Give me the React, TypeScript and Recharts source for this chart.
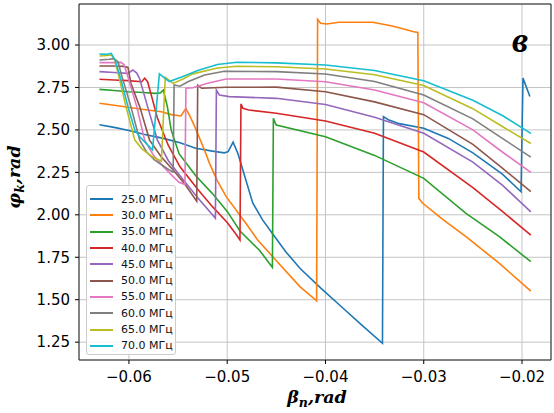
import { LineChart, Line, XAxis, YAxis, CartesianGrid, ReferenceArea, Legend } from 'recharts'

type Pt = [number, number]

// phase curves, [beta_n, phi_k]
const f25: Pt[] = [
  [-0.063, 2.53], [-0.0615, 2.515], [-0.06, 2.497], [-0.0585, 2.475], [-0.0565, 2.45], [-0.0548, 2.425],
  [-0.0532, 2.392], [-0.0515, 2.375], [-0.0503, 2.365], [-0.0499, 2.372], [-0.0494, 2.428], [-0.0489, 2.36],
  [-0.0484, 2.262], [-0.0474, 2.07], [-0.0464, 1.97], [-0.0454, 1.89], [-0.044, 1.78], [-0.0426, 1.685],
  [-0.0405, 1.57], [-0.0384, 1.46], [-0.0363, 1.35], [-0.0342, 1.243], [-0.0341, 2.578], [-0.0336, 2.56],
  [-0.0325, 2.537], [-0.03, 2.51], [-0.0275, 2.45], [-0.025, 2.365], [-0.022, 2.24], [-0.0201, 2.136],
  [-0.0199, 2.805], [-0.0192, 2.697],
]
const f30: Pt[] = [
  [-0.063, 2.657], [-0.0615, 2.645], [-0.0601, 2.633], [-0.0585, 2.62], [-0.0567, 2.607], [-0.0557, 2.59],
  [-0.0547, 2.582], [-0.0542, 2.627], [-0.0537, 2.57], [-0.0533, 2.519], [-0.0523, 2.38], [-0.0518, 2.303],
  [-0.051, 2.2], [-0.0501, 2.107], [-0.0481, 1.95], [-0.0469, 1.852], [-0.045, 1.73], [-0.0426, 1.577],
  [-0.0409, 1.494], [-0.0408, 3.151], [-0.0405, 3.128], [-0.0399, 3.124], [-0.0386, 3.134], [-0.0352, 3.134],
  [-0.0332, 3.112], [-0.031, 3.078], [-0.0306, 3.074], [-0.0305, 2.097], [-0.0301, 2.068], [-0.028, 1.97],
  [-0.0257, 1.871], [-0.0223, 1.714], [-0.0191, 1.551],
]
const f35: Pt[] = [
  [-0.063, 2.739], [-0.0615, 2.732], [-0.0601, 2.725], [-0.0585, 2.72], [-0.0574, 2.715], [-0.0568, 2.718],
  [-0.0565, 2.735], [-0.0561, 2.64], [-0.0557, 2.5], [-0.0549, 2.36], [-0.0532, 2.23], [-0.0515, 2.125],
  [-0.05, 2.02], [-0.0487, 1.905], [-0.0467, 1.79], [-0.0454, 1.691], [-0.0453, 2.568], [-0.0451, 2.54],
  [-0.045, 2.529], [-0.04, 2.46], [-0.035, 2.35], [-0.03, 2.215], [-0.0257, 2.009], [-0.0223, 1.871],
  [-0.0191, 1.724],
]
const f40: Pt[] = [
  [-0.063, 2.798], [-0.0615, 2.794], [-0.0601, 2.79], [-0.0587, 2.784], [-0.0584, 2.804], [-0.0581, 2.784],
  [-0.0577, 2.7], [-0.0571, 2.57], [-0.056, 2.41], [-0.0548, 2.283], [-0.053, 2.15], [-0.0515, 2.048],
  [-0.05, 1.955], [-0.0491, 1.885], [-0.0487, 1.852], [-0.0486, 2.653], [-0.0484, 2.627], [-0.0478, 2.617],
  [-0.045, 2.598], [-0.04, 2.552], [-0.035, 2.48], [-0.03, 2.37], [-0.025, 2.16], [-0.022, 2.02],
  [-0.0191, 1.881],
]
const f45: Pt[] = [
  [-0.063, 2.843], [-0.0615, 2.838], [-0.0601, 2.833], [-0.0596, 2.853], [-0.0592, 2.835], [-0.0589, 2.8],
  [-0.0581, 2.637], [-0.0571, 2.44], [-0.056, 2.32], [-0.0548, 2.23], [-0.053, 2.1], [-0.0515, 2.0],
  [-0.0512, 1.979], [-0.0511, 2.735], [-0.0508, 2.706], [-0.0498, 2.696], [-0.045, 2.686], [-0.04, 2.65],
  [-0.035, 2.575], [-0.03, 2.48], [-0.025, 2.31], [-0.022, 2.175], [-0.0191, 2.017],
]
const f50: Pt[] = [
  [-0.063, 2.876], [-0.0615, 2.876], [-0.0605, 2.874], [-0.0601, 2.868], [-0.0598, 2.775], [-0.0589, 2.637],
  [-0.0579, 2.44], [-0.0567, 2.34], [-0.0555, 2.264], [-0.0543, 2.18], [-0.0531, 2.08], [-0.053, 2.764],
  [-0.0526, 2.745], [-0.0501, 2.751], [-0.045, 2.752], [-0.04, 2.725], [-0.035, 2.665], [-0.03, 2.59],
  [-0.025, 2.415], [-0.022, 2.275], [-0.0191, 2.136],
]
const f55: Pt[] = [
  [-0.063, 2.896], [-0.0615, 2.896], [-0.0608, 2.898], [-0.0605, 2.885], [-0.0601, 2.813], [-0.0592, 2.637],
  [-0.0584, 2.44], [-0.0575, 2.35], [-0.0565, 2.283], [-0.0555, 2.225], [-0.0549, 2.192], [-0.0543, 2.178],
  [-0.0542, 2.745], [-0.0535, 2.748], [-0.052, 2.775], [-0.0501, 2.8], [-0.045, 2.8], [-0.04, 2.784],
  [-0.035, 2.735], [-0.03, 2.66], [-0.025, 2.5], [-0.022, 2.37], [-0.0191, 2.25],
]
const f60: Pt[] = [
  [-0.063, 2.912], [-0.062, 2.916], [-0.0615, 2.92], [-0.0611, 2.9], [-0.0608, 2.833], [-0.0598, 2.637],
  [-0.0589, 2.44], [-0.0582, 2.37], [-0.0574, 2.323], [-0.0559, 2.264], [-0.0555, 2.252], [-0.0554, 2.764],
  [-0.0548, 2.757], [-0.054, 2.784], [-0.0523, 2.823], [-0.0503, 2.845], [-0.045, 2.843], [-0.04, 2.829],
  [-0.035, 2.785], [-0.03, 2.705], [-0.025, 2.565], [-0.022, 2.45], [-0.0191, 2.34],
]
const f65: Pt[] = [
  [-0.063, 2.935], [-0.0622, 2.938], [-0.0618, 2.941], [-0.0615, 2.92], [-0.0611, 2.833], [-0.0603, 2.637],
  [-0.0594, 2.44], [-0.0587, 2.39], [-0.0577, 2.345], [-0.0567, 2.315], [-0.0563, 2.81], [-0.0555, 2.774],
  [-0.0545, 2.8], [-0.0535, 2.83], [-0.051, 2.865], [-0.049, 2.875], [-0.045, 2.872], [-0.04, 2.859],
  [-0.035, 2.825], [-0.03, 2.762], [-0.025, 2.625], [-0.022, 2.52], [-0.0191, 2.42],
]
const f70: Pt[] = [
  [-0.063, 2.947], [-0.0622, 2.945], [-0.0618, 2.951], [-0.0614, 2.91], [-0.0608, 2.794], [-0.0601, 2.637],
  [-0.0594, 2.5], [-0.0589, 2.46], [-0.0579, 2.4], [-0.0576, 2.382], [-0.0569, 2.83], [-0.0559, 2.785],
  [-0.0545, 2.815], [-0.053, 2.85], [-0.051, 2.885], [-0.049, 2.898], [-0.045, 2.895], [-0.04, 2.882],
  [-0.035, 2.85], [-0.03, 2.79], [-0.025, 2.675], [-0.022, 2.585], [-0.0191, 2.48],
]

const curves = [f25, f30, f35, f40, f45, f50, f55, f60, f65, f70]
const freqLabels = ['25.0 МГц', '30.0 МГц', '35.0 МГц', '40.0 МГц', '45.0 МГц', '50.0 МГц', '55.0 МГц', '60.0 МГц', '65.0 МГц', '70.0 МГц']
const xTicks = [-0.06, -0.05, -0.04, -0.03, -0.02]
const yTicks = [1.25, 1.5, 1.75, 2.0, 2.25, 2.5, 2.75, 3.0]

const colors = ['#1f77b4', '#ff7f0e', '#2ca02c', '#d62728', '#9467bd', '#8c564b', '#e377c2', '#7f7f7f', '#bcbd22', '#17becf']
const xDomain: [number, number] = [-0.06508, -0.01705]
const yDomain: [number, number] = [1.145, 3.2415]
const titleFont = { fontFamily: 'DejaVu Serif', fontWeight: 700, fontStyle: 'italic' as const }

function XTitle(props: any) {
  const vb = props.viewBox || { x: 79, y: 360, width: 472, height: 53 }
  return (
    <text x={vb.x + vb.width / 2 + 2} y={vb.y + 43} textAnchor="middle" fontSize={17.5} fill="#000" {...titleFont}>
      <tspan>β</tspan>
      <tspan dy={4} fontSize={12.5}>n</tspan>
      <tspan dy={-4}>,rad</tspan>
    </text>
  )
}

function YTitle(props: any) {
  const vb = props.viewBox || { x: 0, y: 4, width: 79, height: 356 }
  const cx = vb.x + 20
  const cy = vb.y + vb.height / 2 - 5
  return (
    <text x={cx} y={cy} textAnchor="middle" fontSize={17.5} fill="#000" transform={`rotate(-90, ${cx}, ${cy})`} {...titleFont}>
      <tspan>φ</tspan>
      <tspan dy={4} fontSize={12.5}>k</tspan>
      <tspan dy={-4}>,rad</tspan>
    </text>
  )
}

function LegendBox(props: any) {
  const { payload = [] } = props
  return (
    <div
      style={{
        border: '1px solid #cccccc',
        borderRadius: 3,
        background: 'rgba(255,255,255,0.8)',
        padding: '5px 0 0 3px',
        width: 90,
        height: 170,
        boxSizing: 'border-box',
      }}
    >
      {payload.map((entry: any) => (
        <div key={entry.value} style={{ display: 'flex', alignItems: 'center', height: 16.3 }}>
          <span style={{ display: 'inline-block', width: 23, height: 2, background: entry.color, marginRight: 8 }} />
          <span style={{ fontSize: 11, color: '#111', lineHeight: 1, fontFamily: 'DejaVu Sans' }}>{entry.value}</span>
        </div>
      ))}
    </div>
  )
}

export default function App() {
  const tickStyle = { fill: '#000', fontSize: 15, fontFamily: 'DejaVu Sans' }
  return (
    <div style={{ position: 'absolute', left: 0, top: 0, width: 554, height: 413, background: '#fff', fontFamily: 'DejaVu Sans' }}>
      <LineChart width={554} height={413} margin={{ top: 4, right: 3, bottom: 0, left: 0 }}>
        <CartesianGrid stroke="#c4c4c4" strokeWidth={1} />
        <XAxis
          type="number"
          dataKey="x"
          domain={xDomain}
          ticks={xTicks}
          allowDataOverflow
          height={53}
          tick={tickStyle}
          tickSize={4}
          tickMargin={7}
          tickLine={{ stroke: '#000' }}
          axisLine={false}
          tickFormatter={(v: number) => `−${Math.abs(v).toFixed(2)}`}
          label={<XTitle />}
        />
        <YAxis
          type="number"
          dataKey="y"
          domain={yDomain}
          ticks={yTicks}
          allowDataOverflow
          width={79}
          tick={tickStyle}
          tickSize={4}
          tickMargin={5}
          tickLine={{ stroke: '#000' }}
          axisLine={false}
          tickFormatter={(v: number) => v.toFixed(2)}
          label={<YTitle />}
        />
        {curves.map((c, i) => (
          <Line
            key={freqLabels[i]}
            name={freqLabels[i]}
            data={c.map(([x, y]) => ({ x, y }))}
            dataKey="y"
            type="linear"
            stroke={colors[i]}
            strokeWidth={1.6}
            dot={false}
            activeDot={false}
            isAnimationActive={false}
          />
        ))}
        <ReferenceArea x1={xDomain[0]} x2={xDomain[1]} y1={yDomain[0]} y2={yDomain[1]} fill="none" stroke="#222" strokeWidth={1} />
        <Legend
          layout="vertical"
          align="center"
          verticalAlign="middle"
          content={<LegendBox />}
          wrapperStyle={{ left: 86, top: 185, width: 90, height: 170 }}
        />
      </LineChart>
      <svg width={554} height={413} style={{ position: 'absolute', left: 0, top: 0, pointerEvents: 'none' }}>
        <text x={520} y={52} textAnchor="middle" fontSize={36} fontFamily="Liberation Serif" fontWeight={700} fontStyle="italic" fill="#000">
          в
        </text>
      </svg>
    </div>
  )
}
